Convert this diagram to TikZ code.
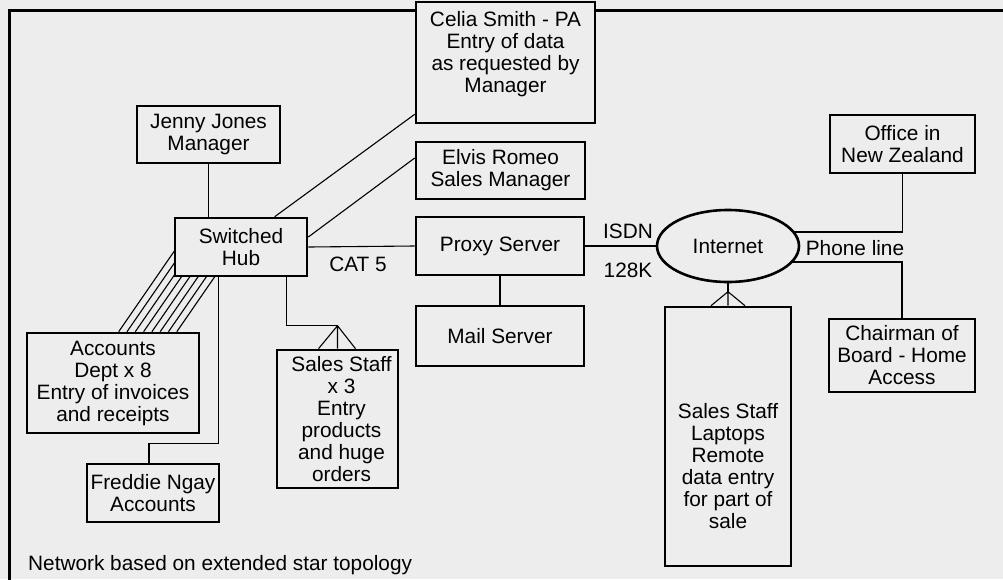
\documentclass[tikz,border=0pt]{standalone}
\usepackage{fontspec}
\setmainfont{Liberation Sans}
\usetikzlibrary{calc,shapes.geometric}
\definecolor{bg}{RGB}{237,237,237}
\pgfdeclarelayer{back}
\pgfdeclarelayer{wires}
\pgfsetlayers{back,wires,main}
\tikzset{
  box/.style={draw, line width=2.6pt, fill=bg, rectangle, inner sep=0pt, align=center, font=\fontsize{20.8}{22}\selectfont},
  cloud/.style={draw, line width=2.6pt, fill=bg, ellipse, inner sep=0pt, font=\fontsize{20.8}{22}\selectfont},
  wire/.style={line width=1.1pt},
  lbl/.style={inner sep=0pt, font=\fontsize{20.8}{22}\selectfont}
}
\begin{document}
\begin{tikzpicture}[x=1pt,y=-1pt]
\useasboundingbox (0,0) rectangle (1003,579);
% nodes
\node[box, minimum width=179pt, minimum height=121pt,
  label={[lbl, align=center, yshift=8pt]center:Celia Smith - PA\\Entry of data\\as requested by\\Manager}] (celia) at (505.5,62.5) {};
\node[box, minimum width=143pt, minimum height=57pt] (jenny) at (208.5,134.5) {Jenny Jones\\Manager};
\node[box, minimum width=169pt, minimum height=57pt] (elvis) at (500.5,170.5) {Elvis Romeo\\Sales Manager};
\node[box, minimum width=132pt, minimum height=58pt] (hub) at (241,247) {Switched\\Hub};
\node[box, minimum width=168pt, minimum height=58pt] (proxy) at (500,246) {Proxy Server};
\node[box, minimum width=168pt, minimum height=60pt] (mail) at (500,336) {Mail Server};
\node[cloud, minimum width=142pt, minimum height=72pt] (inet) at (728,246) {Internet};
\node[box, minimum width=145pt, minimum height=58pt] (nz) at (902.5,144) {Office in\\New Zealand};
\node[box, minimum width=146pt, minimum height=73pt] (chair) at (902,355.5) {Chairman of\\Board - Home\\Access};
\node[box, minimum width=126pt, minimum height=259pt,
  label={[lbl, align=center, yshift=-30pt]center:Sales Staff\\Laptops\\Remote\\data entry\\for part of\\sale}] (lap) at (728,436.5) {};
\node[box, minimum width=121pt, minimum height=138pt,
  label={[lbl, align=center, xshift=4pt]center:Sales Staff\\x 3\\Entry\\products\\and huge\\orders}] (sales) at (337.5,419) {};
\node[box, minimum width=172pt, minimum height=100pt] (acc) at (113,383) {Accounts\\Dept x 8\\Entry of invoices\\and receipts};
\node[box, minimum width=132pt, minimum height=58pt] (fred) at (153,493) {Freddie Ngay\\Accounts};
% labels
\node[lbl] (cat) at (358,264) {CAT 5};
\node[lbl] (isdn) at (628,231) {ISDN};
\node[lbl] (k128) at (628,270) {128K};
\node[lbl] (phone) at (855,248) {Phone line};
\node[lbl, anchor=base west] (foot) at (28,570) {Network based on extended star topology};
% background and frame
\begin{pgfonlayer}{back}
\fill[bg] (0,0) rectangle (1003,579);
\draw[line width=3pt] (9.5,590) -- (9.5,10.5) -- (1010,10.5);
\end{pgfonlayer}
% connectors
\begin{pgfonlayer}{wires}
\draw[wire] (jenny.south) -- (jenny.south |- hub.north);
\draw[wire] ($(hub.north west)+(101,0)$) -- ($(celia.south west)+(0,-10)$);
\draw[wire] ($(hub.east)+(0,-10)$) -- ($(elvis.west)+(0,-12.5)$);
\draw[wire] (hub.east) -- (proxy.west);
\draw[wire] (proxy.south) -- (mail.north);
\draw[wire] (proxy.east) -- (inet.west);
\draw[wire] ($(inet.center)+(0,-14)$) -| (nz.south);
\draw[wire] ($(inet.center)+(0,16)$) -| (chair.north);
\coordinate (lapc) at ($(lap.north)+(0,-14)$);
\draw[wire] (inet.center) -- (lapc);
\draw[wire] (lapc) -- ($(lap.north)+(-17,0)$) (lapc) -- (lap.north) (lapc) -- ($(lap.north)+(17,0)$);
\coordinate (salc) at ($(sales.north)+(0,-23)$);
\draw[wire] ($(hub.south west)+(113,0)$) |- (salc);
\draw[wire] (salc) -- ($(sales.north)+(-19,0)$) (salc) -- (sales.north) (salc) -- ($(sales.north)+(18,0)$);
\draw[wire] ($(hub.south west)+(45,0)$) -- ++(0,166) -| ($(fred.north)+(-4,0)$);
\foreach \i in {0,...,7}
  \draw[wire] ($(acc.north west)+(93+8.3*\i,0)$) -- ++(60,-87);
\end{pgfonlayer}
\end{tikzpicture}
\end{document}
